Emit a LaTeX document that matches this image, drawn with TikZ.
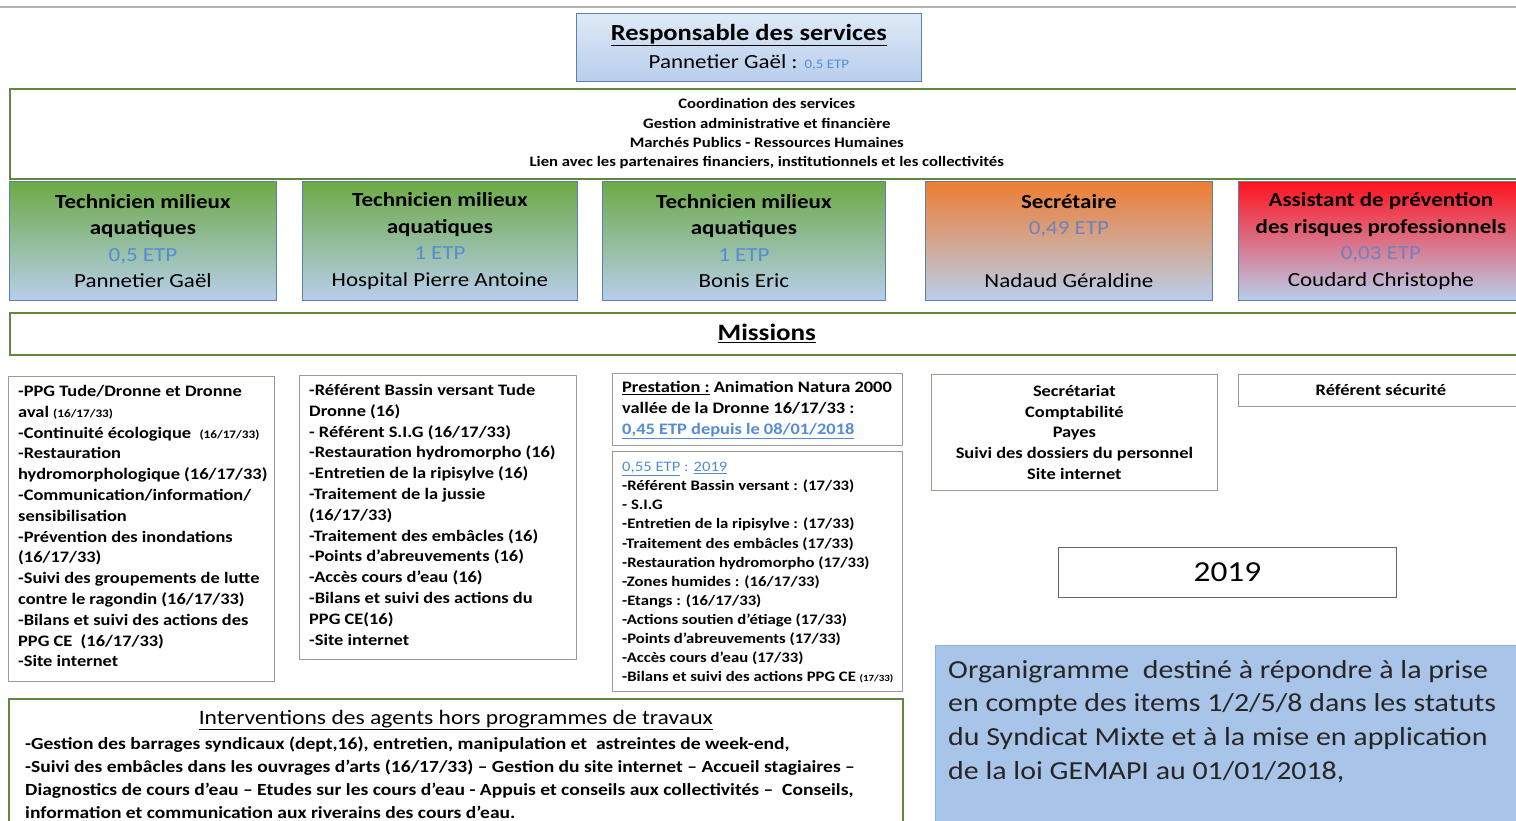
\documentclass[tikz,border=0pt]{standalone}
\usepackage{fontspec}
\setmainfont{Carlito}[FakeStretch=1.15]
\usetikzlibrary{positioning}
\definecolor{framegreen}{RGB}{98,136,64}
\definecolor{boxgrey}{RGB}{150,158,140}
\definecolor{etpblue}{RGB}{84,141,212}
\definecolor{dimblue}{RGB}{110,130,190}
\definecolor{skyblue}{RGB}{184,206,236}
\definecolor{paleblue}{RGB}{222,234,247}
\definecolor{agentedge}{RGB}{96,128,170}
\definecolor{leafgreen}{RGB}{108,170,70}
\definecolor{sunorange}{RGB}{238,125,50}
\definecolor{alertred}{RGB}{255,18,30}
\definecolor{notefill}{RGB}{168,196,232}
\definecolor{noteedge}{RGB}{140,176,222}
\newcommand{\fs}[2]{\fontsize{#1}{#2}\selectfont}
\newcommand{\etp}[1]{{\color{etpblue}#1}}
\newcommand{\smalltag}[1]{{\fs{11.5}{13}#1}}
\newcommand{\tinytag}[1]{{\fs{9.5}{11}#1}}

\begin{document}
\begin{tikzpicture}[x=1pt, y=-1pt,
  frame/.style={draw=framegreen, line width=1.6pt, inner sep=0pt, anchor=north west},
  listbox/.style={draw=boxgrey, line width=0.8pt, inner sep=0pt, anchor=north west},
  listtext/.style={inner sep=0pt, align=left, font=\fs{16}{20.8}\bfseries},
  agent/.style={draw=agentedge, line width=0.8pt, bottom color=skyblue, inner sep=0pt,
    anchor=north west, align=center, font=\fs{20}{26.5}}]
  \useasboundingbox (0,0) rectangle (1516,821);
  \fill[white] (0,0) rectangle (1516,821);
  \clip (0,0) rectangle (1516,821);
  \draw[gray!60, line width=1.2pt] (0,7) -- (1516,7);

  % Responsable
  \node[draw=agentedge, line width=0.8pt, top color=paleblue, bottom color=skyblue,
    anchor=north west, minimum width=345pt, minimum height=68pt, align=center,
    font=\fs{20}{28}] (boss) at (576,13)
    {{\fs{23}{28}\bfseries\underline{Responsable des services}}\\
     Pannetier Gaël : \etp{\fs{13}{28}0,5 ETP}};

  % Coordination
  \node[frame, minimum width=1514pt, minimum height=90pt, align=center,
    font=\fs{14.5}{19.3}\bfseries] (coord) at (9,88)
    {Coordination des services\\
     Gestion administrative et financière\\
     Marchés Publics - Ressources Humaines\\
     Lien avec les partenaires financiers, institutionnels et les collectivités};

  % Agents
  \node[agent, top color=leafgreen, minimum width=267pt, minimum height=119pt] (tech1) at (9,181)
    {\bfseries Technicien milieux\\ \bfseries aquatiques\\ \etp{0,5 ETP}\\ Pannetier Gaël};
  \node[agent, top color=leafgreen, minimum width=275pt, minimum height=119pt] (tech2) at (302,181)
    {\bfseries Technicien milieux\\ \bfseries aquatiques\\ \etp{1 ETP}\\ Hospital Pierre Antoine};
  \node[agent, top color=leafgreen, minimum width=283pt, minimum height=119pt] (tech3) at (602,181)
    {\bfseries Technicien milieux\\ \bfseries aquatiques\\ \etp{1 ETP}\\ Bonis Eric};
  \node[agent, top color=sunorange, minimum width=287pt, minimum height=119pt] (secr) at (925,181)
    {\bfseries Secrétaire\\ {\color{dimblue}0,49 ETP}\\[26.5pt] Nadaud Géraldine};
  \node[agent, top color=alertred, minimum width=285pt, minimum height=119pt] (prev) at (1238,181)
    {\bfseries Assistant de prévention\\ \bfseries des risques professionnels\\ {\color{dimblue}0,03 ETP}\\ Coudard Christophe};

  % Missions
  \node[frame, minimum width=1514pt, minimum height=42pt, font=\fs{23.5}{26}\bfseries]
    (missions) at (9,312) {\underline{Missions}};

  % Missions par agent
  \node[listbox, minimum width=266pt, minimum height=305pt] (m1) at (8,376) {};
  \node[listtext, below right=9pt and 10pt of m1.north west] (m1text)
    {-PPG Tude/Dronne et Dronne\\
     aval \smalltag{(16/17/33)}\\
     -Continuité écologique\ \ \smalltag{(16/17/33)}\\
     -Restauration\\
     hydromorphologique (16/17/33)\\
     -Communication/information/\\
     sensibilisation\\
     -Prévention des inondations\\
     (16/17/33)\\
     -Suivi des groupements de lutte\\
     contre le ragondin (16/17/33)\\
     -Bilans et suivi des actions des\\
     PPG CE\ \ (16/17/33)\\
     -Site internet};

  \node[listbox, minimum width=277pt, minimum height=284pt] (m2) at (299,375) {};
  \node[listtext, below right=9pt and 10pt of m2.north west] (m2text)
    {-Référent Bassin versant Tude\\
     Dronne (16)\\
     - Référent S.I.G (16/17/33)\\
     -Restauration hydromorpho (16)\\
     -Entretien de la ripisylve (16)\\
     -Traitement de la jussie\\
     (16/17/33)\\
     -Traitement des embâcles (16)\\
     -Points d’abreuvements (16)\\
     -Accès cours d’eau (16)\\
     -Bilans et suivi des actions du\\
     PPG CE(16)\\
     -Site internet};

  \node[listbox, minimum width=290pt, minimum height=72pt] (m3a) at (612,373) {};
  \node[listtext, below right=8pt and 10pt of m3a.north west] (m3atext)
    {\underline{Prestation :} Animation Natura 2000\\
     vallée de la Dronne 16/17/33 :\\
     \etp{\underline{0,45 ETP depuis le 08/01/2018}}};

  \node[listbox, minimum width=290pt, minimum height=240pt] (m3b) at (612,451) {};
  \node[listtext, font=\fs{14.5}{19.1}\bfseries, below right=11pt and 10pt of m3b.north west] (m3btext)
    {\mdseries\etp{\underline{0,55 ETP} : \underline{2019}}\\
     -Référent Bassin versant : (17/33)\\
     - S.I.G\\
     -Entretien de la ripisylve : (17/33)\\
     -Traitement des embâcles (17/33)\\
     -Restauration hydromorpho (17/33)\\
     -Zones humides : (16/17/33)\\
     -Etangs : (16/17/33)\\
     -Actions soutien d’étiage (17/33)\\
     -Points d’abreuvements (17/33)\\
     -Accès cours d’eau (17/33)\\
     -Bilans et suivi des actions PPG CE \tinytag{(17/33)}};

  \node[listbox, minimum width=286pt, minimum height=116pt, align=center,
    font=\fs{16}{20.8}\bfseries] (m4) at (931,374)
    {Secrétariat\\ Comptabilité\\ Payes\\ Suivi des dossiers du personnel\\ Site internet};

  \node[listbox, minimum width=285pt, minimum height=32pt, font=\fs{16}{18}\bfseries]
    (m5) at (1238,374) {Référent sécurité};

  % Annee
  \node[draw=gray!80!black, line width=0.8pt, anchor=north west, minimum width=338pt,
    minimum height=50pt, font=\fs{29}{34}] (year) at (1058,547) {2019};

  % Note
  \node[draw=noteedge, fill=notefill, line width=1pt, anchor=north west,
    minimum width=600pt, minimum height=200pt] (note) at (935,645) {};
  \node[inner sep=0pt, align=left, font=\fs{26}{33.7}, text=black!85,
    below right=15pt and 13pt of note.north west] (notetext)
    {Organigramme\ \ destiné à répondre à la prise\\
     en compte des items 1/2/5/8 dans les statuts\\
     du Syndicat Mixte et à la mise en application\\
     de la loi GEMAPI au 01/01/2018,};

  % Interventions
  \node[frame, minimum width=894pt, minimum height=140pt] (interv) at (8,698) {};
  \node[inner sep=0pt, font=\fs{20.5}{24}, below=12pt of interv.north] (intervtitle)
    {\underline{Interventions des agents hors programmes de travaux}};
  \node[inner sep=0pt, align=left, font=\fs{17}{23}\bfseries,
    below right=39pt and 17pt of interv.north west] (intervtext)
    {-Gestion des barrages syndicaux (dept,16), entretien, manipulation et\ \ astreintes de week-end,\\
     -Suivi des embâcles dans les ouvrages d’arts (16/17/33) – Gestion du site internet – Accueil stagiaires –\\
     Diagnostics de cours d’eau – Etudes sur les cours d’eau - Appuis et conseils aux collectivités –\ \ Conseils,\\
     information et communication aux riverains des cours d’eau.};
\end{tikzpicture}
\end{document}
